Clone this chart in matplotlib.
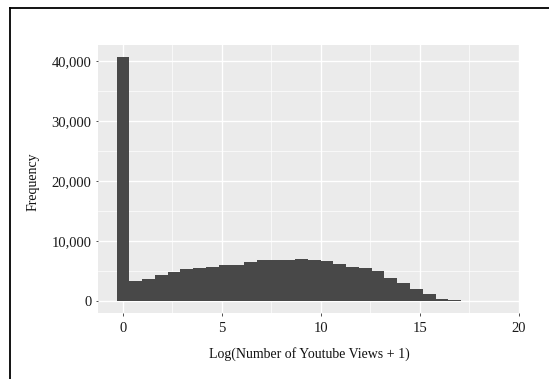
import numpy as np
import matplotlib
matplotlib.use("Agg")
import matplotlib.pyplot as plt
from matplotlib.lines import Line2D

# histogram of log(views + 1), 30 bins
bin_start = -0.3225
bin_width = 0.645
counts = [40700, 3320, 3770, 4430, 4870, 5310, 5540, 5740, 6090, 6090,
          6480, 6860, 6860, 6870, 7030, 6870, 6650, 6260, 5700, 5480,
          5090, 3880, 2940, 2100, 1220, 300, 150, 8, 2, 1]
x_ticks = [0, 5, 10, 15, 20]
y_ticks = [0, 10000, 20000, 30000, 40000]
y_tick_labels = ["0", "10,000", "20,000", "30,000", "40,000"]

plt.rcParams['font.family'] = ['Liberation Serif', 'DejaVu Serif']

W, H = 549, 379
fig = plt.figure(figsize=(W / 100, H / 100), dpi=100)
ax = fig.add_axes([98.3 / W, 1 - 313.3 / H, (519.5 - 98.3) / W, (313.3 - 45) / H])

edges = bin_start + bin_width * np.arange(len(counts) + 1)
centers = (edges[:-1] + edges[1:]) / 2
ax.bar(centers, counts, width=bin_width, color='#484848', linewidth=0, zorder=3)

ax.set_facecolor('#EBEBEB')
ax.set_xlim(-1.25, 20.05)
ax.set_ylim(-2035, 42735)

ax.set_xticks(x_ticks)
ax.set_xticklabels([str(t) for t in x_ticks])
ax.set_yticks(y_ticks)
ax.set_yticklabels(y_tick_labels)
ax.set_xticks([2.5, 7.5, 12.5, 17.5], minor=True)
ax.set_yticks([5000, 15000, 25000, 35000], minor=True)

ax.grid(which='major', color='white', linewidth=1.0, zorder=0)
ax.grid(which='minor', color='white', linewidth=0.5, zorder=0)
ax.set_axisbelow(True)

for s in ax.spines.values():
    s.set_visible(False)

ax.tick_params(which='major', length=1.8, width=0.6, color='#333333',
               labelsize=10.5, labelcolor='#1a1a1a')
ax.tick_params(axis='x', which='major', pad=4.5)
ax.tick_params(axis='y', which='major', pad=3)
ax.tick_params(which='minor', length=0)

ax.set_xlabel("Log(Number of Youtube Views + 1)", fontsize=10, color='#111111')
ax.set_ylabel("Frequency", fontsize=10, color='#111111')
ax.xaxis.set_label_coords(0.5, -0.152)
ax.xaxis.label.set_verticalalignment('center')
ax.yaxis.set_label_coords(-0.155, 0.49)
ax.yaxis.label.set_verticalalignment('center')

# black frame around the figure (only top and left edges fall inside the image)
fig.add_artist(Line2D([10 / W, 1.0], [1 - 8 / H, 1 - 8 / H], color='black', linewidth=1.3,
                      transform=fig.transFigure))
fig.add_artist(Line2D([10 / W, 10 / W], [0.0, 1 - 8 / H], color='black', linewidth=1.3,
                      transform=fig.transFigure))

fig.savefig("out.png", dpi=100)
